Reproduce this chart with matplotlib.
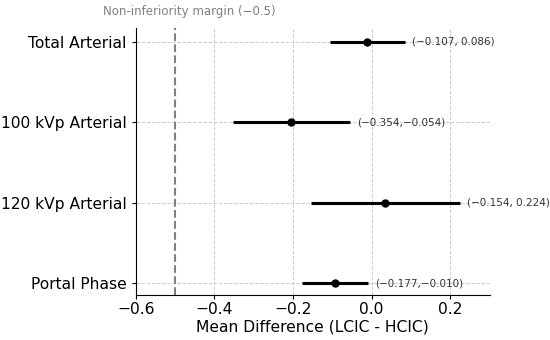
import matplotlib
matplotlib.use("Agg")
import matplotlib.pyplot as plt
import numpy as np

categories = ["Total Arterial", "100 kVp Arterial", "120 kVp Arterial", "Portal Phase"]
ci_lower = [-0.107, -0.354, -0.154, -0.177]
ci_upper = [0.086, -0.054, 0.224, -0.010]
ci_labels = ["(\u22120.107, 0.086)", "(\u22120.354,\u22120.054)", "(\u22120.154, 0.224)", "(\u22120.177,\u22120.010)"]
margin = -0.5

means = [(l + u) / 2 for l, u in zip(ci_lower, ci_upper)]
ypos = np.arange(len(categories))[::-1]

fig = plt.figure(figsize=(5.5, 3.4), dpi=100)
ax = fig.add_axes([0.247, 0.132, 0.643, 0.785])

for y, m, lo, hi, lab in zip(ypos, means, ci_lower, ci_upper, ci_labels):
    ax.errorbar(m, y, xerr=[[m - lo], [hi - m]], fmt='o', color='black',
                ecolor='black', elinewidth=2.2, markersize=5, capsize=0, zorder=3)
    ax.text(hi + 0.018, y, lab, va='center', ha='left', fontsize=7.5, color='#333333')

ax.axvline(margin, color='gray', linestyle='--', linewidth=1.5, zorder=2)
ax.text(-0.463, 3.38, "Non-inferiority margin (\u22120.5)", ha='center', va='center',
        fontsize=8.5, color='gray')

ax.set_yticks(ypos)
ax.set_yticklabels(categories, fontsize=11.2)
ax.set_xlim(-0.6, 0.3)
ax.set_ylim(-0.15, 3.17)
ax.set_xticks([-0.6, -0.4, -0.2, 0.0, 0.2])
ax.set_xticklabels(["\u22120.6", "\u22120.4", "\u22120.2", "0.0", "0.2"], fontsize=11.2)
ax.tick_params(axis='x', pad=2, length=3)
ax.tick_params(axis='y', length=3)
ax.set_xlabel("Mean Difference (LCIC - HCIC)", fontsize=11.2, labelpad=2)
ax.grid(True, linestyle='--', color='#cccccc', linewidth=0.7)
ax.set_axisbelow(True)
for s in ['top', 'right']:
    ax.spines[s].set_visible(False)

fig.savefig("out.png", dpi=100)
